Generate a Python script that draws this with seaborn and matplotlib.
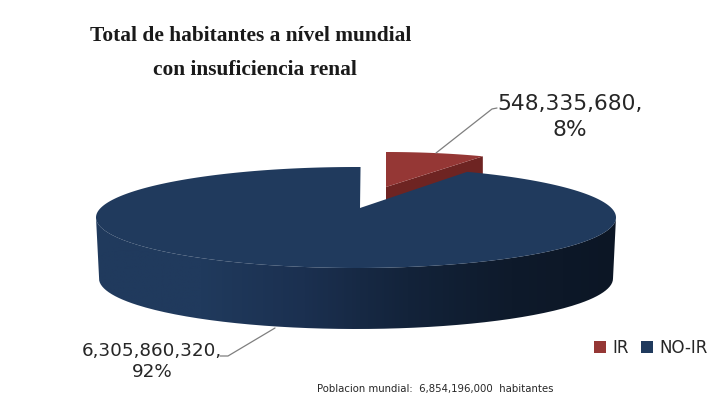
import numpy as np
import matplotlib
matplotlib.use("Agg")
import matplotlib.pyplot as plt
from matplotlib.patches import Patch, PathPatch, Polygon
from matplotlib.path import Path
import seaborn as sns

categories = ["IR", "NO-IR"]
habitantes = [548335680, 6305860320]
colores_top = ["#953735", "#203A5D"]
titulo = ["Total de habitantes a nível mundial", "con insuficiencia renal"]
nota = "Poblacion mundial:  6,854,196,000  habitantes"

sns.set_theme(style="white")
plt.rcParams["font.family"] = ["DejaVu Sans"]

fig = plt.figure(figsize=(7.26, 3.96), dpi=100)
ax = fig.add_axes([0, 0, 1, 1])
ax.set_xlim(0, 726)
ax.set_ylim(396, 0)
ax.axis("off")

total = sum(habitantes)
barrido = 360.0 * habitantes[0] / total
inicio = 1.0
perspectiva = -4.5  # the tilted view foreshortens the cut on the far side


def arco(cx, cy, a, b, t0, t1, n=160):
    # angles run clockwise from the top of the ellipse
    t = np.radians(np.linspace(t0, t1, n))
    return np.column_stack([cx + a * np.sin(t), cy - b * np.cos(t)])


def clipped_gradient(path, extent, stops, z):
    cmap = sns.blend_palette(stops, as_cmap=True)
    grad = np.linspace(0, 1, 512).reshape(1, -1)
    im = ax.imshow(grad, extent=extent, aspect="auto", cmap=cmap, zorder=z)
    patch = PathPatch(path, transform=ax.transData, fc="none", ec="none")
    ax.add_patch(patch)
    im.set_clip_path(patch)
    ax.set_xlim(0, 726)
    ax.set_ylim(396, 0)


# exploded IR slice, with its inner cut face behind the main disc
rx, ry, ra, rb, rdepth = 386, 187, 201, 35, 20
red_arc = arco(rx, ry, ra, rb, inicio - 1, inicio - 1 + barrido)
cara = np.array([[rx, ry], red_arc[-1], red_arc[-1] + [0, rdepth], [rx, ry + rdepth - 6]])
ax.add_patch(Polygon(cara, closed=True, fc="#6E2422", ec="none", zorder=1))
ax.add_patch(Polygon(np.vstack([[rx, ry], red_arc]), closed=True, fc=colores_top[0], ec="none", zorder=2))

# main disc: extruded rim first, then the top face
cx, cy, a, b, depth = 356, 217.5, 260, 50.5, 61
frente = arco(cx, cy, a, b, 90, 270)
fondo = arco(cx, cy + depth, a - 3, b, 270, 90)
rim = Path(np.vstack([frente, fondo, frente[:1]]))
clipped_gradient(rim, (96, 616, 340, 160),
                 ["#203A5D", "#203A5D", "#1B3050", "#13233A", "#0E1A2B", "#0C1625"], 3)

apex = np.array([[360, 208]])
top = arco(cx, cy, a, b, inicio + barrido + perspectiva, 360 + inicio, 400)
ax.add_patch(Polygon(np.vstack([apex, top]), closed=True, fc=colores_top[1], ec="none", zorder=4))

# leader lines and value labels
ax.plot([436, 492, 497], [153, 109, 108], color="#7F7F7F", lw=0.9, zorder=5)
ax.plot([275, 228, 220], [328, 356, 356], color="#7F7F7F", lw=0.9, zorder=5)


def etiqueta(v):
    return f"{v:,},\n{round(100 * v / total)}%"


ax.text(570, 117, etiqueta(habitantes[0]), ha="center", va="center", fontsize=15.7,
        color="#262626", linespacing=1.4, zorder=6)
ax.text(152, 361.5, etiqueta(habitantes[1]), ha="center", va="center", fontsize=13.2,
        color="#262626", linespacing=1.27, zorder=6)

# title
ax.text(251, 36, titulo[0], ha="center", va="center", fontsize=15.4, fontweight="bold",
        family="Liberation Serif", color="#1A1A1A")
ax.text(255, 70, titulo[1], ha="center", va="center", fontsize=15.4, fontweight="bold",
        family="Liberation Serif", color="#1A1A1A")

# legend and footnote
handles = [Patch(fc=c, ec="none", label=n) for c, n in zip(colores_top, categories)]
ax.legend(handles=handles, ncol=2, frameon=False, loc="center",
          bbox_to_anchor=(651 / 726, 1 - 348 / 396), fontsize=12,
          handlelength=0.7, handleheight=0.7, handletextpad=0.4, columnspacing=0.75,
          labelcolor="#262626")

ax.text(435.5, 389, nota, ha="center", va="center", fontsize=7.25, color="#262626")

fig.savefig("out.png", dpi=100)
